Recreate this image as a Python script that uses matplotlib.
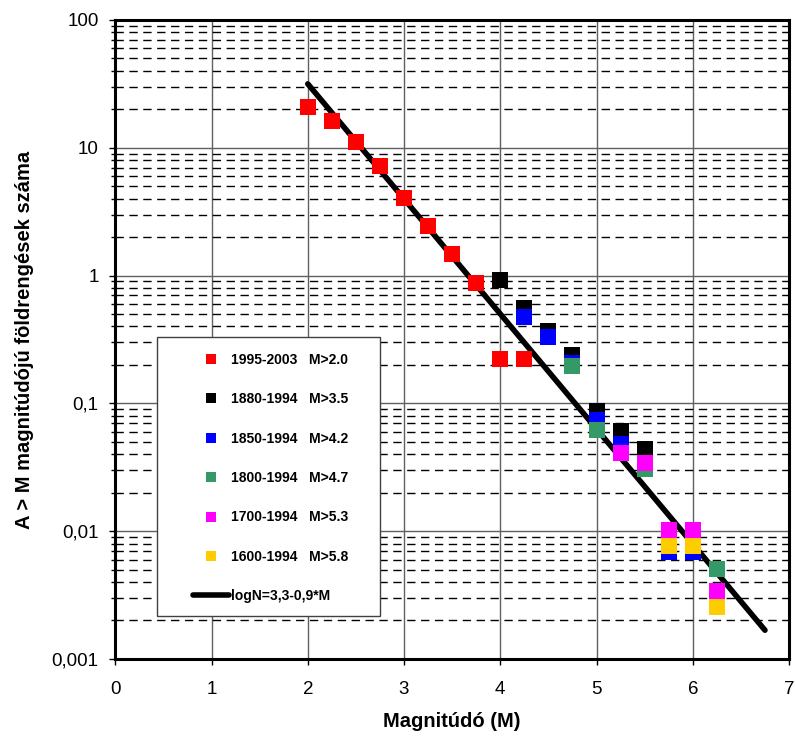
import numpy as np
import matplotlib.pyplot as plt
from matplotlib.patches import Rectangle
from matplotlib.ticker import FixedLocator, LogLocator, FixedFormatter, NullFormatter

plt.rcParams['font.family'] = ['Liberation Sans', 'DejaVu Sans']

# data
red_m = [2.0, 2.25, 2.5, 2.75, 3.0, 3.25, 3.5, 3.75, 4.0, 4.25]
red_n = [20.8, 16.2, 11.1, 7.2, 4.05, 2.44, 1.47, 0.875, 0.222, 0.222]
black_m = [4.0, 4.25, 4.5, 4.75, 5.0, 5.25, 5.5]
black_n = [0.925, 0.557, 0.368, 0.24, 0.087, 0.061, 0.0436]
blue_m = [4.25, 4.5, 4.75, 5.0, 5.25, 5.75, 6.0]
blue_n = [0.478, 0.328, 0.206, 0.074, 0.048, 0.0069, 0.0069]
green_m = [4.75, 5.0, 5.5, 6.25]
green_n = [0.196, 0.062, 0.0307, 0.0051]
magenta_m = [5.25, 5.5, 5.75, 6.0, 6.25]
magenta_n = [0.041, 0.034, 0.0102, 0.0102, 0.0034]
yellow_m = [5.75, 6.0, 6.25]
yellow_n = [0.0077, 0.0077, 0.00255]

labels = ['1995-2003   M>2.0', '1880-1994   M>3.5', '1850-1994   M>4.2',
          '1800-1994   M>4.7', '1700-1994   M>5.3', '1600-1994   M>5.8']
colors = ['#ff0000', '#000000', '#0000ff', '#339966', '#ff00ff', '#ffcc00']

fit_a, fit_b = 3.3, 0.9
fit_m = np.array([2.0, 6.75])

fig = plt.figure(figsize=(7.95, 7.4), dpi=100)
ax = fig.add_axes([0.145, 0.1095, 0.8475, 0.8635])

series = [(red_m, red_n), (black_m, black_n), (blue_m, blue_n),
          (green_m, green_n), (magenta_m, magenta_n), (yellow_m, yellow_n)]
for (m, n), c, lab in zip(series, colors, labels):
    ax.plot(m, n, 's', color=c, markersize=11, markeredgewidth=0, label=lab, zorder=4)

ax.plot(fit_m, 10 ** (fit_a - fit_b * fit_m), color='black', lw=4,
        solid_capstyle='round', label='logN=3,3-0,9*M', zorder=3)

ax.set_yscale('log')
ax.set_xlim(0, 7)
ax.set_ylim(0.001, 100)

ax.xaxis.set_major_locator(FixedLocator(range(8)))
ax.yaxis.set_major_locator(FixedLocator([0.001, 0.01, 0.1, 1, 10, 100]))
ax.yaxis.set_major_formatter(FixedFormatter(['0,001', '0,01', '0,1', '1', '10', '100']))
ax.yaxis.set_minor_locator(LogLocator(base=10, subs=np.arange(2, 10)))
ax.yaxis.set_minor_formatter(NullFormatter())

ax.grid(True, which='major', axis='both', color='#606060', lw=1)
ax.grid(True, which='minor', axis='y', color='black', lw=1, linestyle=(0, (6, 4)))
ax.set_axisbelow(True)

for s in ax.spines.values():
    s.set_linewidth(2.2)
ax.tick_params(which='major', direction='out', length=4, labelsize=13.5, width=1)
ax.tick_params(which='minor', direction='out', length=3, width=1)
ax.tick_params(axis='x', pad=12)
ax.tick_params(axis='y', pad=8)

ax.set_xlabel('Magnitúdó (M)', fontsize=14.5, fontweight='bold', labelpad=10)
ax.set_ylabel('A > M magnitúdójú földrengések száma', fontsize=14.5, fontweight='bold', labelpad=13)

# legend frame drawn separately so the box can be wider than its entries
box = Rectangle((0.0623, 0.0673), 0.3307, 0.4367, transform=ax.transAxes,
                facecolor='white', edgecolor='#404040', lw=1, zorder=5)
ax.add_patch(box)
leg = ax.legend(loc='upper left', bbox_to_anchor=(0.1157, 0.4793), frameon=False,
                prop={'weight': 'bold', 'size': 10},
                labelspacing=1.83, handlelength=2.6, handletextpad=0.15, borderpad=0,
                borderaxespad=0, markerscale=0.7)
leg.set_zorder(6)

fig.savefig('out.png', dpi=100)
